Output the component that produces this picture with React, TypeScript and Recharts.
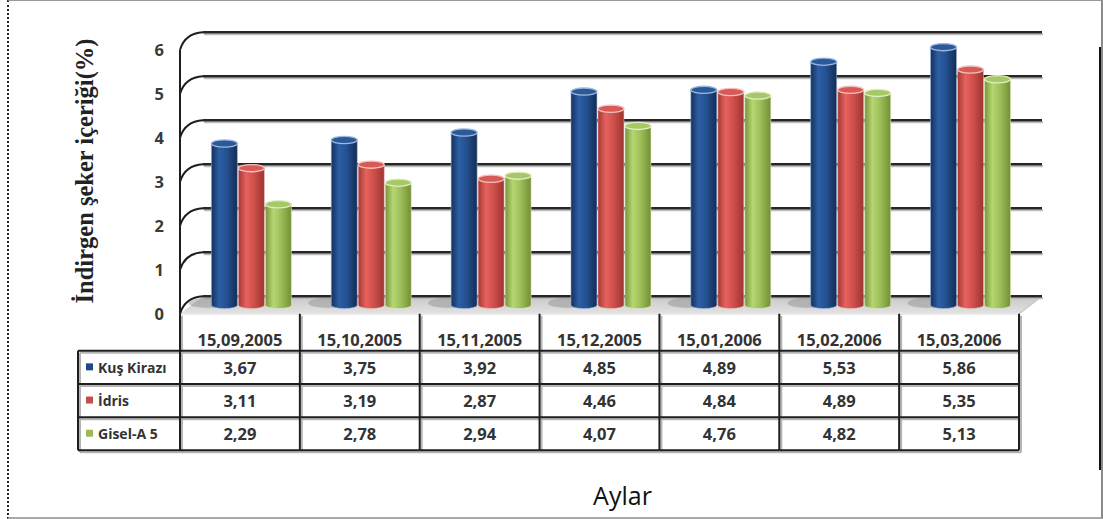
import React from 'react';
import { BarChart, Bar, XAxis, YAxis, CartesianGrid } from 'recharts';

// ---------- data ----------
const categories = ['15,09,2005', '15,10,2005', '15,11,2005', '15,12,2005', '15,01,2006', '15,02,2006', '15,03,2006'];
const kusKirazi = [3.67, 3.75, 3.92, 4.85, 4.89, 5.53, 5.86];
const idris = [3.11, 3.19, 2.87, 4.46, 4.84, 4.89, 5.35];
const giselA5 = [2.29, 2.78, 2.94, 4.07, 4.76, 4.82, 5.13];
const seriesNames = ['Kuş Kirazı', 'İdris', 'Gisel-A 5'];
const yTicks = [0, 1, 2, 3, 4, 5, 6];
const yTitle = 'İndirgen şeker içeriği(%)';
const xTitle = 'Aylar';

const data = categories.map((c, i) => ({ date: c, k: kusKirazi[i], i: idris[i], g: giselA5[i] }));
const seriesValues = [kusKirazi, idris, giselA5];

// ---------- style ----------
const series = [
  { key: 'k', gid: 'gBlue', top: '#2a5a9c', rim: '#9fb9dd', swatch: '#1f4a8a', stops: ['#14305c', '#2c5fa6', '#24508f', '#132c55'] },
  { key: 'i', gid: 'gRed', top: '#d85a57', rim: '#f3c0bd', swatch: '#c0504d', stops: ['#a33835', '#e6625e', '#cf4f4b', '#9c3431'] },
  { key: 'g', gid: 'gGreen', top: '#a6c865', rim: '#dfeec4', swatch: '#9bbb59', stops: ['#779438', '#b6d672', '#9dbe5a', '#738f35'] },
];

const W = 1103;
const H = 519;
const PLOT_L = 191.5;
const PLOT_R = 1030.5;
const PLOT_T = 41;
const PLOT_B = 305;
const YAXIS_W = 40;
const XAXIS_H = 30;
const DX = 11.5; // half depth offset
const DY = 8.75;
const COL_W = (PLOT_R - PLOT_L) / categories.length;
const LEGEND_W = 102;
const HEADER_H = 37;
const ROW_H = 33.2;

const textFont = "'Open Sans', 'DejaVu Sans', sans-serif";
const lineColor = '#1e1e1e';
const shadowColor = '#b5b5b5';

const fmt = (v: number) => v.toFixed(2).replace('.', ',');

// ---------- grid (back wall lines + floor) ----------
const gridLine = (props: any) => {
  const { x1, y1, x2, index } = props;
  const bottom = props.y != null && props.height != null ? props.y + props.height : null;
  const isFloor = bottom != null ? Math.abs(y1 - bottom) < 0.6 : index === 0;
  const bx1 = x1 + DX;
  const bx2 = x2 + DX;
  const by = y1 - DY;
  const fx = x1 - DX;
  const fy = y1 + DY;
  return (
    <g key={`gl-${index}`}>
      {isFloor && (
        <g>
          <polygon
            points={`${fx},${fy} ${x2 - DX},${fy} ${bx2},${by} ${bx1},${by}`}
            fill="url(#floorGrad)"
          />
          <line x1={fx} y1={fy} x2={x2 - DX} y2={fy} stroke="#e6e6e6" strokeWidth={2} />
          <line x1={x2 - DX} y1={fy} x2={bx2} y2={by} stroke="#c8c8c8" strokeWidth={1.5} />
        </g>
      )}
      <line x1={bx1 + 1} y1={by + 2} x2={bx2 + 1} y2={by + 2} stroke="#bdbdbd" strokeWidth={2} />
      <path
        d={`M${fx},${fy} Q${fx + 5},${by + 1} ${bx1},${by}`}
        stroke={lineColor}
        strokeWidth={2}
        fill="none"
      />
      <line x1={bx1} y1={by} x2={bx2} y2={by} stroke="#262626" strokeWidth={2.6} />
    </g>
  );
};

// ---------- cylinder bar ----------
const makeCylinder = (si: number) => (props: any) => {
  const { x, y, width, height } = props;
  if (width == null || height == null) return <g />;
  const s = series[si];
  const rx = width / 2;
  const ry = 3.6;
  const cx = x + rx;
  const bottom = y + height;
  return (
    <g>
      {si === 0 && (
        <ellipse cx={x - 4} cy={bottom - 2} rx={rx + 6} ry={5} fill="#8c8c8c" opacity={0.45} />
      )}
      <path
        d={`M${x},${y} L${x},${bottom} A${rx},${ry} 0 0 0 ${x + width},${bottom} L${x + width},${y} Z`}
        fill={`url(#${s.gid})`}
        stroke={s.rim}
        strokeWidth={0.8}
        strokeOpacity={0.7}
      />
      <ellipse cx={cx} cy={y} rx={rx} ry={ry} fill={s.top} stroke={s.rim} strokeWidth={1.3} />
    </g>
  );
};

// ---------- y axis tick ----------
const YTick = (props: any) => {
  const { x, y, payload } = props;
  return (
    <text
      x={x - DX - 16}
      y={y + DY}
      textAnchor="end"
      dominantBaseline="central"
      fontFamily={textFont}
      fontWeight={700}
      fontSize={16.5}
      fill="#3a3a3a"
    >
      {payload.value}
    </text>
  );
};

// ---------- data table drawn per category ----------
const TableTick = (props: any) => {
  const { x, y, payload, index } = props;
  const cx = x - DX;
  const left = cx - COL_W / 2;
  const right = cx + COL_W / 2;
  const headerTop = y + DY;
  const rowTops = [0, 1, 2, 3].map((r) => headerTop + HEADER_H + r * ROW_H);
  const bottom = rowTops[3];
  const isLast = index === categories.length - 1;

  const lines = (dx: number, color: string) => (
    <g transform={`translate(${dx},${dx})`} stroke={color} strokeWidth={2}>
      <line x1={left} y1={headerTop} x2={left} y2={bottom} />
      {isLast && <line x1={right} y1={headerTop} x2={right} y2={bottom} />}
      {rowTops.map((ry, r) => (
        <line key={r} x1={left} y1={ry} x2={right} y2={ry} />
      ))}
      {index === 0 && (
        <g>
          <line x1={left - LEGEND_W} y1={rowTops[0]} x2={left} y2={rowTops[0]} />
          {rowTops.slice(1).map((ry, r) => (
            <line key={`l${r}`} x1={left - LEGEND_W} y1={ry} x2={left} y2={ry} />
          ))}
          <line x1={left - LEGEND_W} y1={rowTops[0]} x2={left - LEGEND_W} y2={bottom} />
        </g>
      )}
    </g>
  );

  return (
    <g>
      {lines(2, shadowColor)}
      {lines(0, lineColor)}
      <text
        x={cx}
        y={headerTop + 26}
        textAnchor="middle"
        dominantBaseline="central"
        fontFamily={textFont}
        fontWeight={700}
        fontSize={16.5}
        fill="#333"
      >
        {payload.value}
      </text>
      {seriesValues.map((vals, r) => (
        <text
          key={r}
          x={cx}
          y={rowTops[r] + ROW_H / 2}
          textAnchor="middle"
          dominantBaseline="central"
          fontFamily={textFont}
          fontWeight={700}
          fontSize={16.5}
          fill="#333"
        >
          {fmt(vals[index])}
        </text>
      ))}
      {index === 0 &&
        seriesNames.map((name, r) => (
          <g key={`n${r}`}>
            <rect
              x={left - LEGEND_W + 8}
              y={rowTops[r] + ROW_H / 2 - 4}
              width={7}
              height={7}
              fill={series[r].swatch}
            />
            <text
              x={left - LEGEND_W + 20}
              y={rowTops[r] + ROW_H / 2}
              dominantBaseline="central"
              fontFamily={textFont}
              fontWeight={700}
              fontSize={14}
              fill="#333"
            >
              {name}
            </text>
          </g>
        ))}
    </g>
  );
};

const YTitle = (props: any) => {
  const vb = props.viewBox || { x: PLOT_L - YAXIS_W, y: PLOT_T, height: PLOT_B - PLOT_T };
  const cx = 84;
  const cy = vb.y + vb.height / 2 - 2;
  return (
    <text
      x={cx}
      y={cy}
      transform={`rotate(-90, ${cx}, ${cy})`}
      textAnchor="middle"
      dominantBaseline="central"
      fontFamily="'Liberation Serif', 'DejaVu Serif', serif"
      fontWeight={700}
      fontSize={24.5}
      fill="#222"
    >
      {yTitle}
    </text>
  );
};

const XTitle = (props: any) => {
  const vb = props.viewBox || { x: PLOT_L, width: PLOT_R - PLOT_L };
  const cx = vb.x + vb.width / 2 + DX;
  return (
    <text
      x={cx}
      y={495}
      textAnchor="middle"
      dominantBaseline="central"
      fontFamily={textFont}
      fontSize={25}
      fill="#111"
    >
      {xTitle}
    </text>
  );
};

export default function App() {
  return (
    <div style={{ position: 'absolute', left: 0, top: 0, width: W, height: H, background: '#fff' }}>
      <div
        style={{
          position: 'absolute',
          left: 7,
          top: 0,
          width: 1092,
          height: 516,
          borderTop: '1px solid #9a9a9a',
          borderRight: '2px solid #8a8a8a',
          borderBottom: '2px solid #a8a8a8',
          borderLeft: '2px dotted #222',
          boxSizing: 'content-box',
        }}
      />
      <div style={{ position: 'absolute', left: 1099, top: 47, width: 2, height: 423, background: '#111' }} />
      <div style={{ position: 'absolute', left: 0, top: 0 }}>
        <BarChart
          width={W}
          height={H}
          data={data}
          margin={{ top: PLOT_T, right: W - PLOT_R, left: PLOT_L - YAXIS_W, bottom: H - PLOT_B - XAXIS_H }}
          barCategoryGap="16.6%"
          barGap={1}
        >
          <defs>
            {series.map((s) => (
              <linearGradient key={s.gid} id={s.gid} x1="0" y1="0" x2="1" y2="0">
                <stop offset="0%" stopColor={s.stops[0]} />
                <stop offset="30%" stopColor={s.stops[1]} />
                <stop offset="60%" stopColor={s.stops[2]} />
                <stop offset="100%" stopColor={s.stops[3]} />
              </linearGradient>
            ))}
            <linearGradient id="floorGrad" x1="0" y1="0" x2="0" y2="1">
              <stop offset="0%" stopColor="#c9c9c9" />
              <stop offset="100%" stopColor="#e2e2e2" />
            </linearGradient>
          </defs>
          <CartesianGrid horizontal={gridLine} vertical={false} />
          <XAxis
            dataKey="date"
            interval={0}
            height={XAXIS_H}
            tickSize={0}
            tickMargin={0}
            axisLine={false}
            tickLine={false}
            tick={<TableTick />}
            label={{ value: xTitle, content: <XTitle /> }}
          />
          <YAxis
            domain={[0, 6]}
            ticks={yTicks}
            interval={0}
            width={YAXIS_W}
            tickSize={0}
            tickMargin={0}
            tickLine={false}
            axisLine={{ stroke: lineColor, strokeWidth: 2, transform: `translate(${-DX},${DY})` }}
            tick={<YTick />}
            label={{ value: yTitle, content: <YTitle /> }}
          />
          {series.map((s, si) => (
            <Bar
              key={s.key}
              dataKey={s.key}
              name={seriesNames[si]}
              fill={s.swatch}
              shape={makeCylinder(si)}
              isAnimationActive={false}
            />
          ))}
        </BarChart>
      </div>
    </div>
  );
}
